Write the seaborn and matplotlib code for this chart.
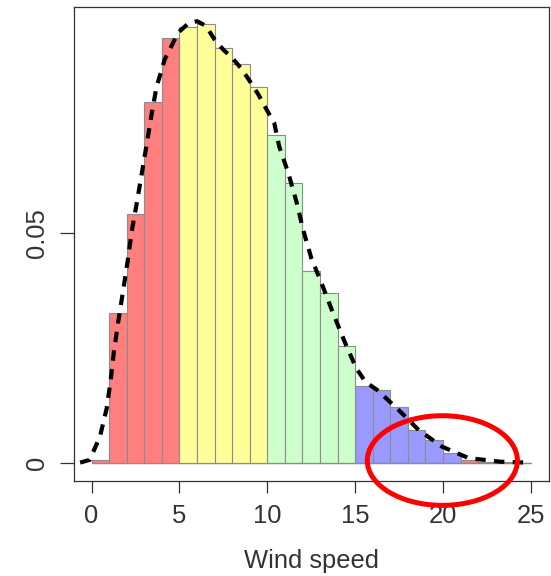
import numpy as np
import pandas as pd
import matplotlib
matplotlib.use("Agg")
import matplotlib.pyplot as plt
from matplotlib.patches import Ellipse
import seaborn as sns

# ---- data ----
bin_left = list(range(0, 25))
density = [0.0006, 0.0325, 0.0540, 0.0784, 0.0923,
           0.0948, 0.0955, 0.0902, 0.0867, 0.0816,
           0.0712, 0.0609, 0.0417, 0.0368, 0.0254,
           0.0167, 0.0157, 0.0120, 0.0070, 0.0049,
           0.0020, 0.0006, 0.0002, 0.0001, 0.0000]
group = (["a"] * 1 + ["a"] * 4 + ["b"] * 5 + ["c"] * 5 + ["d"] * 6 + ["e"] * 4)
palette = {"a": "#FF7F7F", "b": "#FFFF99", "c": "#CCFFCC", "d": "#9999FF", "e": "#FF7F7F"}

curve_x = [-0.65, -0.1, 0.48, 0.86, 1.09, 1.27, 1.52, 1.77, 2.05, 2.28, 2.56, 2.84,
           3.13, 3.41, 3.69, 4.16, 4.6, 4.92, 5.5, 6.0, 6.5, 7.0, 7.5, 8.0, 8.5,
           9.0, 9.5, 10.0, 10.4, 10.68, 11.2, 11.66, 12.04, 12.51, 13.13, 13.74,
           14.4, 15.06, 15.6, 16.25, 17.38, 18.61, 19.93, 21.44, 23.24, 24.8]
curve_y = [0.0, 0.0006, 0.0057, 0.0118, 0.018, 0.0241, 0.0307, 0.0368, 0.0437,
           0.0502, 0.0562, 0.0625, 0.0691, 0.0756, 0.0816, 0.0877, 0.091, 0.0935,
           0.0955, 0.0960, 0.0950, 0.0920, 0.0898, 0.0880, 0.0858, 0.0830, 0.0800,
           0.0765, 0.0738, 0.0687, 0.0629, 0.0567, 0.0506, 0.0444, 0.0386, 0.0325,
           0.0263, 0.0205, 0.0175, 0.0158, 0.0118, 0.0071, 0.0035, 0.001, 0.0002, 0.0]

x_ticks = [0, 5, 10, 15, 20, 25]
y_ticks = [0, 0.05]
y_ticklabels = ["0", "0.05"]
x_label = "Wind speed"

# ---- style ----
sns.set_theme(style="white")
plt.rcParams["font.family"] = ["Liberation Sans", "DejaVu Sans"]
txt = "#333333"

fig = plt.figure(figsize=(5.51, 5.76), dpi=100)
ax = fig.add_axes([74 / 551, 1 - 481 / 576, (548.5 - 74) / 551, (481 - 6.5) / 576])

df = pd.DataFrame({"x": [b + 0.5 for b in bin_left], "w": density, "g": group})
sns.histplot(data=df, x="x", weights="w", hue="g", binwidth=1, binrange=(0, 25),
             palette=palette, alpha=1, edgecolor="#8c8c8c", linewidth=0.8,
             legend=False, ax=ax)

cdf = pd.DataFrame({"x": curve_x, "y": curve_y})
sns.lineplot(data=cdf, x="x", y="y", color="black", lw=3.0, ax=ax, sort=False)
ax.lines[-1].set_dashes((2.5, 2.0))
ax.lines[-1].set_dash_capstyle("butt")

ax.add_patch(Ellipse((19.96, 0.00045), width=8.54, height=0.0195,
                     fill=False, edgecolor="#FF0000", lw=3.6, clip_on=False, zorder=5))

ax.set_xlim(-1, 26)
ax.set_ylim(-0.004, 0.0992)
ax.set_xticks(x_ticks)
ax.set_xticklabels([str(t) for t in x_ticks])
ax.set_yticks(y_ticks)
ax.set_yticklabels(y_ticklabels, rotation=90, va="center")

ax.tick_params(axis="x", length=8.9, width=0.9, color=txt, pad=8.0,
               labelsize=18.4, labelcolor=txt, bottom=True)
ax.tick_params(axis="y", length=10, width=0.9, color=txt, pad=8,
               labelsize=18.4, labelcolor=txt, left=True)
for s in ax.spines.values():
    s.set_color(txt)
    s.set_linewidth(0.9)

ax.set_xlabel(x_label, fontsize=18.4, color=txt, labelpad=15)
ax.set_ylabel("")

fig.savefig("out.png", dpi=100)
